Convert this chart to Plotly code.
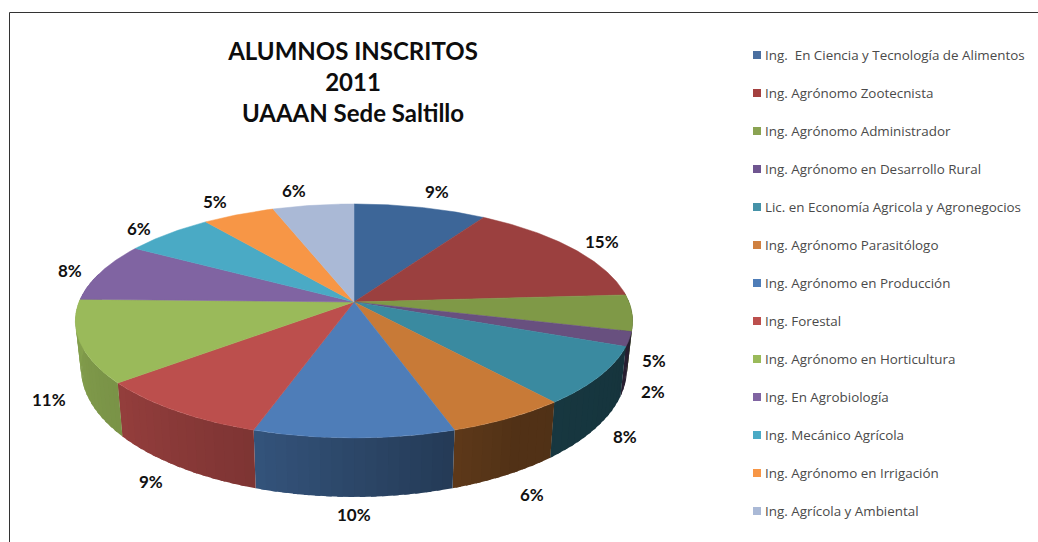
import numpy as np
import plotly.graph_objects as go

TITLE_LINES = ["ALUMNOS INSCRITOS", "2011", "UAAAN Sede Saltillo"]
CATEGORIES = [
    "Ing.  En Ciencia y Tecnología de Alimentos",
    "Ing. Agrónomo Zootecnista",
    "Ing. Agrónomo Administrador",
    "Ing. Agrónomo en Desarrollo Rural",
    "Lic. en Economía Agricola y Agronegocios",
    "Ing. Agrónomo Parasitólogo",
    "Ing. Agrónomo en Producción",
    "Ing. Forestal",
    "Ing. Agrónomo en Horticultura",
    "Ing. En Agrobiología",
    "Ing. Mecánico Agrícola",
    "Ing. Agrónomo en Irrigación",
    "Ing. Agrícola y Ambiental",
]
VALUES = [9.0, 15.0, 5.0, 2.0, 8.0, 6.0, 10.0, 9.0, 11.4, 8.1, 6.1, 4.9, 5.51]

COLORS = ["#3d6698", "#9b403f", "#7f9947", "#68507f", "#3a8aa0", "#c87a37", "#4e7db8",
          "#bc4f4d", "#9aba5a", "#8064a2", "#4aaac5", "#f79646", "#aab9d6"]
LEGEND_COLORS = ["#4a6fa0", "#a4403f", "#8aa352", "#6f5590", "#4592a8", "#cf8040", "#4e7db8",
                 "#bc4f4d", "#9aba5a", "#8064a2", "#4aaac5", "#f79646", "#aab9d6"]
# label offset from the rim point at each slice's mid angle (px)
LABEL_DX = [17, 29, 22, 24, 25, 23.5, 0, -24.5, -31, -31, -29, -24, -19]
LABEL_DY = [-16, -7, 48, 52, 61, 76, 77, 71, 58, -1, -5, -13, -15]

CX, CY, A, B, K = 354.0, 302.0, 275.0, 113.9, 0.162
BASE_SX, BASE_SY, BASE_OFF = 0.98, 1.10, 45.4
FONT = "Lato"


def project(deg):
    t = np.radians(deg)
    X, Y = np.sin(t), np.cos(t)
    den = 1 + K * Y
    return CX + A * X / den, CY - B * Y / den


def base(x, y):
    return CX + (x - CX) * BASE_SX, CY + (y - CY) * BASE_SY + BASE_OFF


def shade(hex_color, f):
    r, g, b = [int(hex_color[i:i + 2], 16) for i in (1, 3, 5)]
    return f"rgb({int(r * f)},{int(g * f)},{int(b * f)})"


total = sum(VALUES)
edges = np.concatenate([[0], np.cumsum(VALUES)]) / total * 360
fig = go.Figure()

# side wall, drawn first; the top covers what would be hidden
for i in range(len(VALUES)):
    a0, a1 = max(edges[i], 85), min(edges[i + 1], 285)
    if a1 <= a0:
        continue
    grid = np.arange(a0, a1, 2.0).tolist() + [a1]
    for s0, s1 in zip(grid[:-1], grid[1:]):
        # each strip runs under the next one so no seam shows
        ang = np.linspace(s0, min(s1 + 1.0, a1), 4)
        x, y = project(ang)
        bx, by = base(x, y)
        f = float(np.interp((s0 + s1) / 2, [110, 150, 162, 198, 230, 270],
                            [0.38, 0.41, 0.47, 0.67, 0.79, 0.87]))
        c = shade(COLORS[i], f)
        fig.add_trace(go.Scatter(
            x=np.concatenate([x, bx[::-1], x[:1]]), y=np.concatenate([y, by[::-1], y[:1]]),
            mode="lines", fill="toself", fillcolor=c, line=dict(color=c, width=0),
            hoverinfo="skip", showlegend=False))

# top face
for i, (cat, val) in enumerate(zip(CATEGORIES, VALUES)):
    ang = np.linspace(edges[i], edges[i + 1], max(4, int(edges[i + 1] - edges[i]) * 2))
    x, y = project(ang)
    fig.add_trace(go.Scatter(
        x=np.concatenate([[CX], x, [CX]]), y=np.concatenate([[CY], y, [CY]]),
        mode="lines", fill="toself", fillcolor=COLORS[i], line=dict(color=COLORS[i], width=0.5),
        name=cat, hoverinfo="name", showlegend=False))

annotations = []
# data labels
for i, val in enumerate(VALUES):
    mx, my = project((edges[i] + edges[i + 1]) / 2)
    annotations.append(dict(x=float(mx) + LABEL_DX[i], y=float(my) + LABEL_DY[i],
                            text=f"<b>{round(val / total * 100)}%</b>", showarrow=False,
                            xanchor="center", yanchor="middle",
                            font=dict(family=FONT, size=17, color="#111111")))

# legend
LEG_Y0, LEG_STEP = 55, 38
leg_y = [LEG_Y0 + LEG_STEP * i for i in range(len(CATEGORIES))]
fig.add_trace(go.Scatter(x=[757] * len(CATEGORIES), y=leg_y, mode="markers",
                         marker=dict(symbol="square", size=8, color=LEGEND_COLORS),
                         hoverinfo="skip", showlegend=False))
for y, cat in zip(leg_y, CATEGORIES):
    annotations.append(dict(x=762.5, y=y, text=cat.replace("  ", "\u00a0\u00a0"), showarrow=False,
                            xanchor="left", yanchor="middle",
                            font=dict(family="Open Sans", size=13.4, color="#4a4a4a")))

fig.update_layout(
    width=1038, height=542, autosize=False,
    margin=dict(l=0, r=0, t=0, b=0),
    paper_bgcolor="white", plot_bgcolor="white",
    xaxis=dict(range=[0, 1038], visible=False, fixedrange=True),
    yaxis=dict(range=[542, 0], visible=False, fixedrange=True),
    annotations=annotations,
    title=dict(text="<b>" + "<br>".join(TITLE_LINES) + "</b>",
               x=353 / 1038, xanchor="center", y=1 - 60 / 542, yanchor="top",
               font=dict(family=FONT, size=24, color="#0d0d0d")),
    shapes=[
        dict(type="line", xref="x", yref="y", x0=9.5, x1=9.5, y0=12.5, y1=542,
             line=dict(color="#333333", width=1)),
        dict(type="line", xref="x", yref="y", x0=9.5, x1=1038, y0=12.5, y1=12.5,
             line=dict(color="#333333", width=1)),
    ],
)
fig.write_html("out.html", config=dict(displayModeBar=False),
               post_script="document.body.style.margin='0';document.body.style.overflow='hidden';")
